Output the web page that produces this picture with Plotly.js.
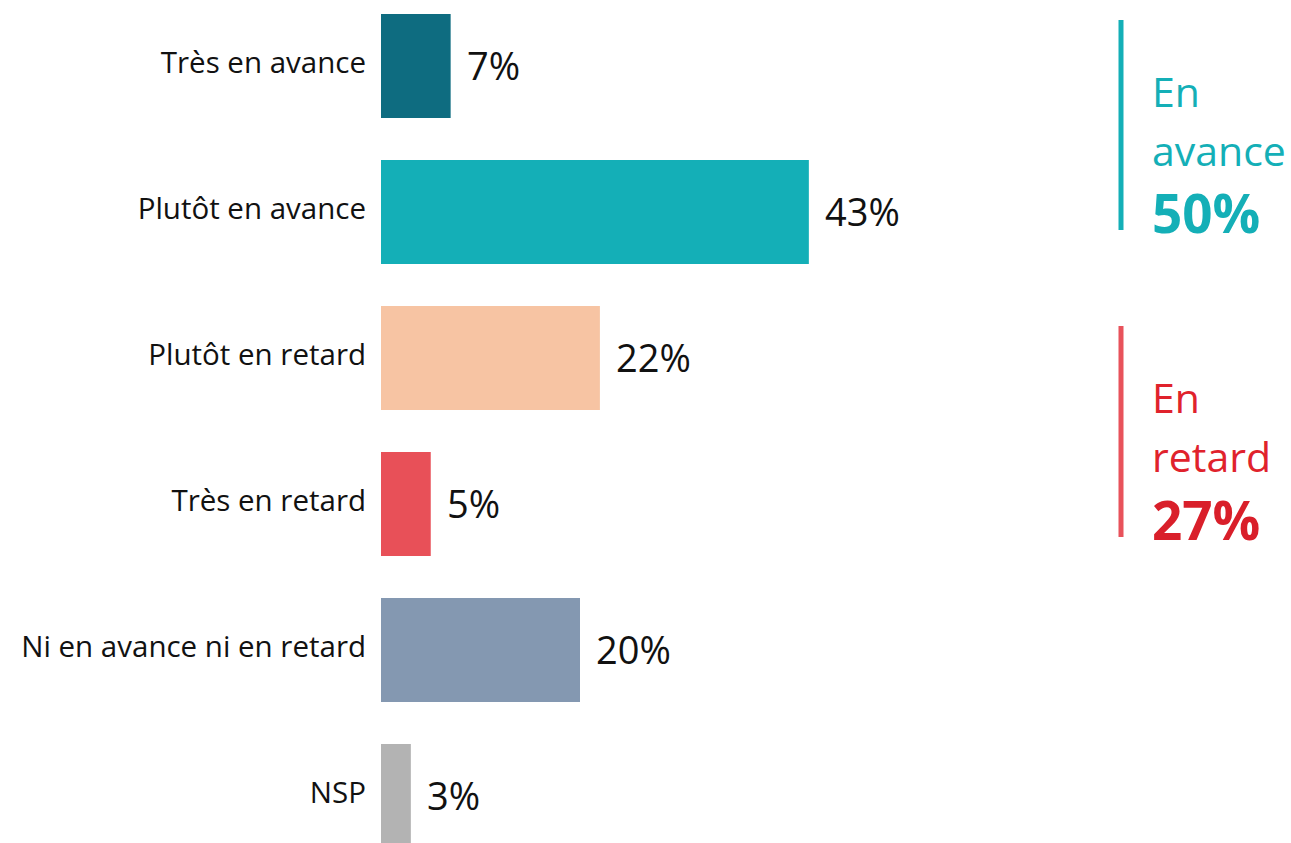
<!DOCTYPE html>
<html>
<head>
<meta charset="utf-8">
<script src="https://cdn.plot.ly/plotly-3.0.1.min.js"></script>
<style>html,body{margin:0;padding:0;background:#fff;}#chart{width:1291px;height:843px;}</style>
</head>
<body>
<div id="chart"></div>
<script>
// ---- data ----
const categories = ["Très en avance", "Plutôt en avance", "Plutôt en retard", "Très en retard", "Ni en avance ni en retard", "NSP"];
const values = [7, 43, 22, 5, 20, 3];
const valueLabels = ["7%", "43%", "22%", "5%", "20%", "3%"];
const barColors = ["#0e6c80", "#14afb7", "#f7c4a3", "#e85058", "#8498b1", "#b3b3b3"];
const groupAvance = ["En", "avance", "50%"];
const groupRetard = ["En", "retard", "27%"];

const W = 1291, H = 843, L = 381;
const pxPerUnit = 9.95;
const FONT = "Open Sans, Noto Sans, sans-serif";

const trace = {
  type: "bar",
  orientation: "h",
  x: values,
  y: categories,
  marker: {color: barColors},
  width: 0.712,
  hoverinfo: "none"
};

const annotations = [];
categories.forEach((c, i) => {
  annotations.push({
    x: values[i], y: c, xref: "x", yref: "y",
    text: valueLabels[i], showarrow: false,
    xanchor: "left", yanchor: "middle", xshift: 14, yshift: 1,
    font: {family: FONT, size: 38, color: "#111"}
  });
});

function px2x(p){ return (p - L) / (W - L); }
function py2y(p){ return 1 - p / H; }

function group(lines, color, boldColor, topY){
  const ys = [topY, topY + 59, topY + 122];
  lines.forEach((t, i) => {
    const bold = i === 2;
    annotations.push({
      x: px2x(1150), y: py2y(ys[i]), xref: "paper", yref: "paper",
      text: bold ? "<b>" + t + "</b>" : t, showarrow: false,
      xanchor: "left", yanchor: "middle",
      font: {family: FONT, size: bold ? 53 : 41, color: bold ? boldColor : color}
    });
  });
}
group(groupAvance, "#14afb7", "#14afb7", 91);
group(groupRetard, "#e0222c", "#d91f2a", 397);

const shapes = [
  {type: "line", xref: "paper", yref: "paper", x0: px2x(1121), x1: px2x(1121), y0: py2y(20), y1: py2y(230),
   line: {color: "#14afb7", width: 5}},
  {type: "line", xref: "paper", yref: "paper", x0: px2x(1121), x1: px2x(1121), y0: py2y(326), y1: py2y(537),
   line: {color: "#e8525b", width: 5}}
];

const layout = {
  width: W, height: H,
  margin: {l: L, r: 0, t: 0, b: 0, pad: 0},
  paper_bgcolor: "#fff", plot_bgcolor: "#fff",
  showlegend: false,
  xaxis: {range: [0, (W - L) / pxPerUnit], visible: false, fixedrange: true},
  yaxis: {
    type: "category",
    range: [(H - 66) / 146, -66 / 146],
    showgrid: false, zeroline: false, showline: false, ticks: "",
    ticklabelstandoff: 14,
    ticklabelshift: 3,
    tickfont: {family: FONT, size: 29.5, color: "#111"},
    fixedrange: true
  },
  annotations: annotations,
  shapes: shapes,
  font: {family: FONT}
};

Plotly.newPlot("chart", [trace], layout, {displayModeBar: false, staticPlot: true});
</script>
</body>
</html>
